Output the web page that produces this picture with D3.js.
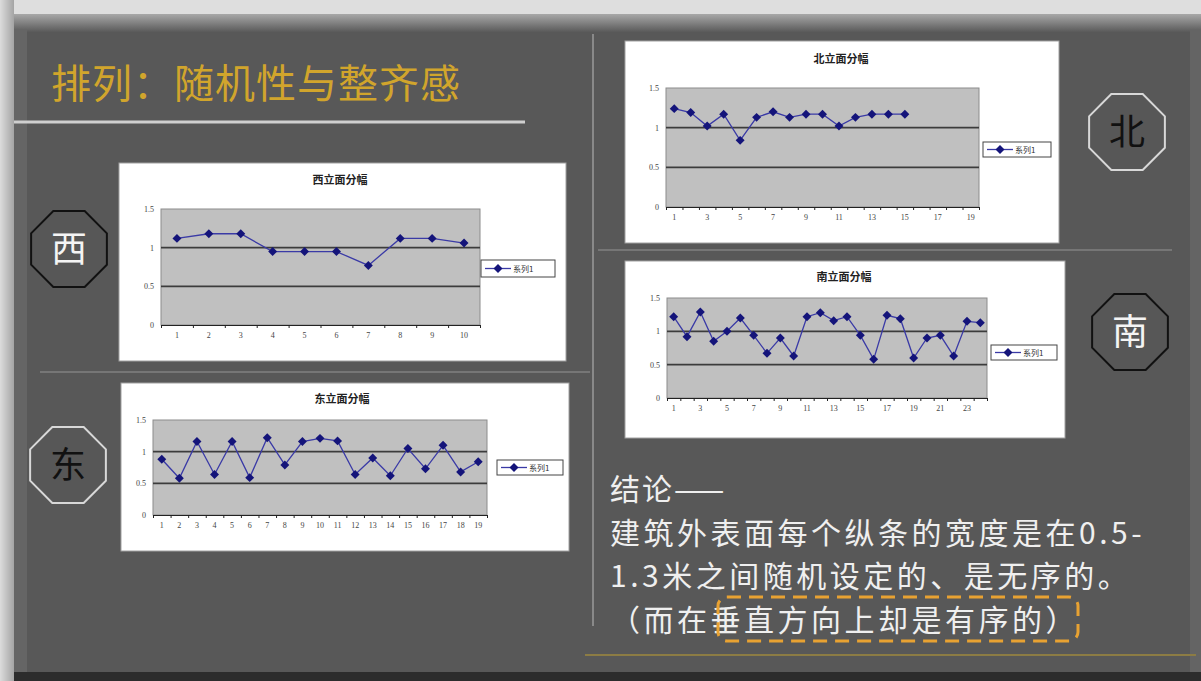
<!DOCTYPE html>
<html>
<head>
<meta charset="utf-8">
<script src="https://cdn.jsdelivr.net/npm/d3@7"></script>
<style>
  body { margin: 0; background: #dcdcdc; }
  svg { display: block; }
</style>
</head>
<body>
<svg id="slide" width="1201" height="681"></svg>
<script>
// Chart Data
var yTickValues = [0, 0.5, 1, 1.5];
var yTickLabels = ["0", "0.5", "1", "1.5"];

var westCats = ["1", "2", "3", "4", "5", "6", "7", "8", "9", "10"];
var westValues = [1.12, 1.18, 1.18, 0.95, 0.95, 0.95, 0.77, 1.12, 1.12, 1.06];

var eastCats = ["1", "2", "3", "4", "5", "6", "7", "8", "9", "10",
                "11", "12", "13", "14", "15", "16", "17", "18", "19"];
var eastValues = [0.88, 0.58, 1.16, 0.64, 1.16, 0.59, 1.22, 0.79, 1.16, 1.21,
                  1.17, 0.64, 0.90, 0.62, 1.05, 0.73, 1.10, 0.68, 0.84];

var northCats = ["1", "2", "3", "4", "5", "6", "7", "8", "9", "10",
                 "11", "12", "13", "14", "15", "16", "17", "18", "19"];
var northValues = [1.24, 1.19, 1.02, 1.17, 0.84, 1.13, 1.20, 1.13, 1.17, 1.17,
                   1.02, 1.13, 1.17, 1.17, 1.17, null, null, null, null];

var southCats = ["1", "2", "3", "4", "5", "6", "7", "8", "9", "10", "11", "12",
                 "13", "14", "15", "16", "17", "18", "19", "20", "21", "22", "23", "24"];
var southValues = [1.22, 0.92, 1.29, 0.85, 1.00, 1.20, 0.94, 0.67, 0.90, 0.63, 1.22, 1.28,
                   1.16, 1.22, 0.94, 0.58, 1.24, 1.19, 0.60, 0.90, 0.94, 0.63, 1.15, 1.13];

var legendName = "系列1";

// Slide Text
var slideTitle = "排列：随机性与整齐感";
var conclusionLines = [
  "结论——",
  "建筑外表面每个纵条的宽度是在0.5-",
  "1.3米之间随机设定的、是无序的。",
  "（而在垂直方向上却是有序的）"
];

var svg = d3.select('#slide');
var CJK = '"Noto Sans CJK SC", "Noto Sans", sans-serif';

// Background And Panel
var defs = svg.append('defs');
var lg = defs.append('linearGradient').attr('id', 'leftEdge')
  .attr('x1', 0).attr('x2', 1).attr('y1', 0).attr('y2', 0);
lg.append('stop').attr('offset', 0).attr('stop-color', '#dcdcdc');
lg.append('stop').attr('offset', 1).attr('stop-color', '#a4a4a4');
var tg = defs.append('linearGradient').attr('id', 'topShade')
  .attr('x1', 0).attr('x2', 0).attr('y1', 0).attr('y2', 1);
tg.append('stop').attr('offset', 0).attr('stop-color', '#a8a8a8');
tg.append('stop').attr('offset', 1).attr('stop-color', '#5a5a5a');

svg.append('rect').attr('width', 1201).attr('height', 681).attr('fill', '#dedede');
svg.append('rect').attr('x', 0).attr('y', 0).attr('width', 14).attr('height', 681).attr('fill', 'url(#leftEdge)');
svg.append('rect').attr('x', 14).attr('y', 14).attr('width', 1187).attr('height', 667).attr('fill', '#585858');
svg.append('rect').attr('x', 14).attr('y', 14).attr('width', 1187).attr('height', 18).attr('fill', 'url(#topShade)');
svg.append('rect').attr('x', 14).attr('y', 30).attr('width', 13).attr('height', 642).attr('fill', '#656565');
svg.append('rect').attr('x', 1190).attr('y', 30).attr('width', 11).attr('height', 642).attr('fill', '#646464');
svg.append('rect').attr('x', 14).attr('y', 672).attr('width', 1187).attr('height', 9).attr('fill', '#2c2c2c');

// Title And Divider Lines
svg.append('text').attr('x', 51).attr('y', 98)
  .attr('font-family', CJK).attr('font-size', 40).attr('letter-spacing', 1)
  .attr('fill', '#d1a52c')
  .text(slideTitle);
svg.append('line').attr('x1', 14).attr('x2', 525).attr('y1', 122).attr('y2', 122)
  .attr('stroke', '#cfcfcf').attr('stroke-width', 3);
svg.append('line').attr('x1', 593).attr('x2', 593).attr('y1', 34).attr('y2', 626)
  .attr('stroke', '#9a9a9a').attr('stroke-width', 1.5);
svg.append('line').attr('x1', 40).attr('x2', 590).attr('y1', 372).attr('y2', 372)
  .attr('stroke', '#808080').attr('stroke-width', 1.5);
svg.append('line').attr('x1', 598).attr('x2', 1172).attr('y1', 250).attr('y2', 250)
  .attr('stroke', '#808080').attr('stroke-width', 1.5);
svg.append('line').attr('x1', 585).attr('x2', 1196).attr('y1', 655).attr('y2', 655)
  .attr('stroke', '#8c7c44').attr('stroke-width', 2);

// Excel Style Diamond (A Square Turned 45 Degrees)
var marker = d3.symbol().type(d3.symbolSquare).size(40);

// Draws One Small Excel-Style Line Chart
function drawChart(cfg) {
  var g = svg.append('g');
  var p = cfg.plot;

  g.append('rect').attr('x', cfg.box[0]).attr('y', cfg.box[1])
    .attr('width', cfg.box[2]).attr('height', cfg.box[3])
    .attr('fill', '#fff').attr('stroke', '#a0a0a0').attr('stroke-width', 1);

  g.append('text').attr('x', cfg.titlePos[0]).attr('y', cfg.titlePos[1])
    .attr('text-anchor', 'middle').attr('font-family', CJK)
    .attr('font-weight', 700).attr('font-size', 11).attr('fill', '#222')
    .text(cfg.title);

  var x = d3.scaleBand().domain(cfg.cats).range([p[0], p[0] + p[2]]);
  var y = d3.scaleLinear().domain([0, 1.5]).range([p[1] + p[3], p[1]]);

  g.append('rect').attr('x', p[0]).attr('y', p[1]).attr('width', p[2]).attr('height', p[3])
    .attr('fill', '#c0c0c0').attr('stroke', '#8c8c8c').attr('stroke-width', 1);

  // Major Gridlines
  g.selectAll('.grid').data(yTickValues.filter(function(v) { return v > 0 && v < 1.5; }))
    .enter().append('line')
    .attr('x1', p[0]).attr('x2', p[0] + p[2])
    .attr('y1', function(d) { return y(d); }).attr('y2', function(d) { return y(d); })
    .attr('stroke', '#3c3c3c').attr('stroke-width', 1.6);

  // Y Axis Labels
  var yAxis = g.append('g').attr('transform', 'translate(' + (p[0] - 4) + ',0)')
    .call(d3.axisLeft(y).tickValues(yTickValues).tickSize(0)
      .tickFormat(function(d, i) { return yTickLabels[i]; }));
  yAxis.select('.domain').remove();
  yAxis.selectAll('text').attr('font-family', '"Liberation Serif", serif')
    .attr('font-size', 8).attr('fill', '#444');

  // Category Boundary Tick Marks
  var edge = d3.scaleLinear().domain([0, cfg.cats.length]).range([p[0], p[0] + p[2]]);
  var xTicks = g.append('g').attr('transform', 'translate(0,' + (p[1] + p[3]) + ')')
    .call(d3.axisBottom(edge).ticks(cfg.cats.length).tickSize(3).tickFormat(''));
  xTicks.select('.domain').attr('stroke', '#222');
  xTicks.selectAll('line').attr('stroke', '#222');

  // Category Labels
  var xAxis = g.append('g').attr('transform', 'translate(0,' + (p[1] + p[3] + 4) + ')')
    .call(d3.axisBottom(x).tickSize(0)
      .tickFormat(function(d, i) { return i % cfg.labelEvery === 0 ? d : ''; }));
  xAxis.select('.domain').remove();
  xAxis.selectAll('text').attr('font-family', '"Liberation Serif", serif')
    .attr('font-size', 8).attr('fill', '#444');

  // Series Line And Markers
  var pts = [];
  cfg.values.forEach(function(v, i) {
    if (v !== null) pts.push({cat: cfg.cats[i], v: v});
  });
  var px = function(d) { return x(d.cat) + x.bandwidth() / 2; };
  var line = d3.line().x(px).y(function(d) { return y(d.v); });
  g.append('path').datum(pts).attr('d', line)
    .attr('fill', 'none').attr('stroke', '#3a3aa6').attr('stroke-width', 1.3);
  g.selectAll('.pt').data(pts).enter().append('path')
    .attr('transform', function(d) {
      return 'translate(' + px(d) + ',' + y(d.v) + ') rotate(45)';
    })
    .attr('d', marker).attr('fill', '#14147a');

  // Legend
  var L = cfg.legend;
  g.append('rect').attr('x', L[0]).attr('y', L[1]).attr('width', L[2]).attr('height', L[3])
    .attr('fill', '#fff').attr('stroke', '#444').attr('stroke-width', 1);
  var my = L[1] + L[3] / 2;
  g.append('line').attr('x1', L[0] + 4).attr('x2', L[0] + 30).attr('y1', my).attr('y2', my)
    .attr('stroke', '#3a3aa6').attr('stroke-width', 1.3);
  g.append('path').attr('transform', 'translate(' + (L[0] + 17) + ',' + my + ') rotate(45)')
    .attr('d', marker).attr('fill', '#14147a');
  g.append('text').attr('x', L[0] + 32).attr('y', my + 3)
    .attr('font-family', CJK).attr('font-size', 8).attr('fill', '#333')
    .text(legendName);
}

drawChart({
  box: [119, 163, 447, 198], plot: [161, 209, 319, 116],
  title: '西立面分幅', titlePos: [340, 184],
  cats: westCats, values: westValues, labelEvery: 1,
  legend: [481, 260, 74, 17]
});
drawChart({
  box: [121, 383, 448, 168], plot: [153, 420, 334, 95],
  title: '东立面分幅', titlePos: [342, 403],
  cats: eastCats, values: eastValues, labelEvery: 1,
  legend: [497, 460, 66, 15]
});
drawChart({
  box: [625, 41, 434, 202], plot: [666, 88, 313, 119],
  title: '北立面分幅', titlePos: [841, 63],
  cats: northCats, values: northValues, labelEvery: 2,
  legend: [983, 142, 68, 15]
});
drawChart({
  box: [625, 261, 440, 177], plot: [667, 298, 320, 100],
  title: '南立面分幅', titlePos: [844, 281],
  cats: southCats, values: southValues, labelEvery: 2,
  legend: [991, 345, 66, 15]
});

// Octagon Direction Badges
var badges = [
  {label: '西', cx: 69, cy: 249, stroke: '#111', text: '#f4f4f4'},
  {label: '东', cx: 68, cy: 465, stroke: '#d8d8d8', text: '#111'},
  {label: '北', cx: 1127, cy: 132, stroke: '#d8d8d8', text: '#111'},
  {label: '南', cx: 1130, cy: 332, stroke: '#111', text: '#f4f4f4'}
];
var R = 41;
var octagon = d3.range(8).map(function(k) {
  var a = Math.PI / 8 + k * Math.PI / 4;
  return [R * Math.cos(a), R * Math.sin(a)];
});
var bg = svg.selectAll('.badge').data(badges).enter().append('g')
  .attr('transform', function(d) { return 'translate(' + d.cx + ',' + d.cy + ')'; });
bg.append('polygon').attr('points', octagon.map(function(p) { return p.join(','); }).join(' '))
  .attr('fill', '#575757').attr('stroke', function(d) { return d.stroke; }).attr('stroke-width', 2);
bg.append('text').attr('text-anchor', 'middle').attr('y', 13)
  .attr('font-family', CJK).attr('font-size', 36)
  .attr('fill', function(d) { return d.text; })
  .text(function(d) { return d.label; });

// Conclusion Text
svg.selectAll('.concl').data(conclusionLines).enter().append('text')
  .attr('x', 610).attr('y', function(d, i) { return 500 + i * 43.5; })
  .attr('font-family', CJK).attr('font-size', 30)
  .attr('letter-spacing', function(d, i) { return i === 0 ? 2 : 3.5; })
  .attr('fill', '#efefef')
  .text(function(d) { return d; });

// Dashed Highlight
svg.append('rect').attr('x', 718).attr('y', 597).attr('width', 360).attr('height', 44)
  .attr('rx', 9).attr('fill', 'none').attr('stroke', '#e8a232')
  .attr('stroke-width', 3).attr('stroke-dasharray', '14 8');
</script>
</body>
</html>
